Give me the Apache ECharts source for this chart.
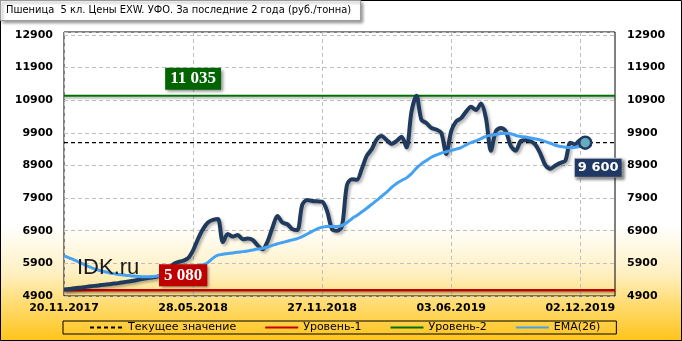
<!DOCTYPE html>
<html><head><meta charset="utf-8">
<script src="https://cdn.jsdelivr.net/npm/echarts@6/dist/echarts.min.js"></script>
<style>html,body{margin:0;padding:0;background:#fff}#c{width:682px;height:341px;}</style>
</head><body><div id="c"></div>
<script>
const chartTitle = 'Пшеница  5 кл. Цены EXW. УФО. За последние 2 года (руб./тонна)';
const tickLabels = ['20.11.2017', '28.05.2018', '27.11.2018', '03.06.2019', '02.12.2019'];
const tickStep = 26;
const categoryCount = 112;
const prices = [
  5100, 5115, 5135, 5150, 5170, 5190, 5210, 5225, 5245, 5260,
  5280, 5295, 5320, 5345, 5370, 5400, 5430, 5450, 5470, 5500,
  5560, 5700, 5870, 5940, 5980, 6060, 6300, 6650, 6950, 7150,
  7230, 7260, 6550, 6800, 6720, 6770, 6640, 6660, 6620, 6450,
  6330, 6570, 7000, 7350, 7150, 7100, 6950, 6920, 7700, 7840,
  7810, 7800, 7790, 7500, 6950, 6900, 7040, 8300, 8480, 8460,
  8800, 9200, 9400, 9700, 9800, 9680, 9560, 9650, 9780, 9450,
  10550, 11035, 10300, 10200, 10050, 10000, 9900, 9250, 9950, 10250,
  10350, 10550, 10700, 10600, 10800, 10350, 9350, 9950, 10050, 9950,
  9500, 9350, 9650, 9680, 9640, 9530, 9250, 8900, 8800, 8900,
  8980, 9050, 9600, 9550, 9680, 9600
];
const ema = [
  6130, 6070, 6010, 5940, 5870, 5800, 5740, 5690, 5650, 5615,
  5585, 5560, 5540, 5525, 5510, 5500, 5490, 5490, 5495, 5510,
  5530, 5560, 5600, 5640, 5690, 5740, 5790, 5830, 5860, 5930,
  6060, 6150, 6180, 6200, 6220, 6240, 6260, 6280, 6310, 6340,
  6360, 6400, 6450, 6500, 6540, 6580, 6620, 6660, 6720, 6800,
  6880, 6960, 7010, 7030, 7030, 7030, 7060, 7150, 7270, 7370,
  7480, 7590, 7710, 7830, 7960, 8080, 8230, 8350, 8440, 8520,
  8650, 8820, 8950, 9050, 9150, 9220, 9280, 9320, 9360, 9400,
  9450, 9530, 9600, 9650, 9720, 9790, 9830, 9850, 9880, 9890,
  9870, 9820, 9790, 9770, 9740, 9710, 9680, 9630, 9580, 9520,
  9480, 9460, 9450, 9460, 9480, 9510
];
const currentValue = 9600;
const level1 = 5080;
const level2 = 11035;
const level1LabelAt = 24;
const level2LabelAt = 26;
const yMin = 4900, yMax = 12990, yStep = 1000;

const categories = Array.from({length: categoryCount}, (_, i) => String(i));
const fmt = v => String(v).replace(/\B(?=(\d{3})+(?!\d))/g, ' ');
const last = prices.length - 1;
const first = categories[0], end = categories[categoryCount - 1];

const gridDash = {color: '#BFBFBF', type: [4, 3], width: 1};
const axisFont = {fontWeight: 'bold', fontSize: 11, color: '#000', fontFamily: 'DejaVu Sans'};
const boxShadow = {shadowColor: 'rgba(0,0,0,0.45)', shadowBlur: 3, shadowOffsetX: 2, shadowOffsetY: 2};

const chart = echarts.init(document.getElementById('c'));
chart.setOption({
  animation: false,
  backgroundColor: {type: 'linear', x: 0, y: 0, x2: 0, y2: 1, colorStops: [
    {offset: 0, color: '#FFFFFF'}, {offset: 0.66, color: '#FFFFFF'},
    {offset: 0.8, color: '#FFF0C2'}, {offset: 0.9, color: '#FFDA6A'}, {offset: 1, color: '#FFC41A'}]},
  title: {
    text: chartTitle, left: 0, top: 0, padding: [5, 10, 5, 6],
    backgroundColor: '#fff', borderColor: '#9A9A9A', borderWidth: 1,
    shadowColor: 'rgba(0,0,0,0.4)', shadowBlur: 3, shadowOffsetX: 2, shadowOffsetY: 2,
    textStyle: {fontFamily: 'DejaVu Sans Condensed', fontSize: 11, fontWeight: 'normal', color: '#000'}
  },
  grid: {left: 64, right: 67, top: 32, bottom: 45, show: true, borderColor: '#000', borderWidth: 1, backgroundColor: 'transparent'},
  legend: {
    data: ['Текущее значение', 'Уровень-1', 'Уровень-2', 'EMA(26)'],
    left: 63, top: 321, itemWidth: 33, itemHeight: 10, itemGap: 28,
    padding: [1, 16, 1, 26], borderColor: '#000', borderWidth: 1,
    itemStyle: {opacity: 0},
    textStyle: {fontSize: 11, fontFamily: 'DejaVu Sans', color: '#000'}
  },
  xAxis: {
    type: 'category', data: categories, boundaryGap: false,
    axisLine: {show: false}, axisTick: {show: false},
    axisLabel: Object.assign({interval: tickStep - 1, margin: 7,
      formatter: (v, i) => tickLabels[i / tickStep] || ''}, axisFont),
    splitLine: {show: true, interval: tickStep - 1, lineStyle: gridDash}
  },
  yAxis: [
    {type: 'value', min: yMin, max: yMax, interval: yStep, position: 'left',
     axisLine: {show: false}, axisTick: {show: false},
     axisLabel: Object.assign({showMaxLabel: false, margin: 11, formatter: v => String(v)}, axisFont),
     splitLine: {show: true, lineStyle: gridDash}},
    {type: 'value', min: yMin, max: yMax, interval: yStep, position: 'right',
     axisLine: {show: false}, axisTick: {show: false},
     axisLabel: Object.assign({showMaxLabel: false, margin: 12, formatter: v => String(v)}, axisFont),
     splitLine: {show: false}}
  ],
  graphic: [
    {type: 'rect', silent: true, z: 0, shape: {x: 0.5, y: 0.5, width: 681, height: 340},
     style: {fill: null, stroke: '#000', lineWidth: 1}},
    {type: 'text', silent: true, z: 100, left: 77, top: 257,
     style: {text: 'IDK.ru', font: '22px "Liberation Sans"', fill: '#1a1a1a'}}
  ],
  series: [
    {name: 'Уровень-1', type: 'line', data: [[first, level1], [end, level1]], symbol: 'none', z: 3,
     lineStyle: {color: '#C00000', width: 2.5, shadowColor: 'rgba(0,0,0,0.3)', shadowBlur: 2, shadowOffsetY: 2},
     itemStyle: {color: '#C00000'},
     markPoint: {symbol: 'circle', symbolSize: 1, z: 20, itemStyle: {color: 'rgba(0,0,0,0)'},
       data: [{coord: [categories[level1LabelAt], level1], value: level1}],
       label: Object.assign({show: true, position: 'inside', offset: [0, -15], formatter: fmt(level1),
         backgroundColor: '#C00000', color: '#fff', fontFamily: 'Liberation Serif', fontWeight: 'bold', fontSize: 17,
         padding: [3, 5, 2, 5]}, boxShadow)}},
    {name: 'Уровень-2', type: 'line', data: [[first, level2], [end, level2]], symbol: 'none', z: 3,
     lineStyle: {color: '#007000', width: 2, shadowColor: 'rgba(0,0,0,0.3)', shadowBlur: 2, shadowOffsetY: 2},
     itemStyle: {color: '#007000'},
     markPoint: {symbol: 'circle', symbolSize: 1, z: 20, itemStyle: {color: 'rgba(0,0,0,0)'},
       data: [{coord: [categories[level2LabelAt], level2], value: level2}],
       label: Object.assign({show: true, position: 'inside', offset: [0, -17], formatter: fmt(level2),
         backgroundColor: '#006400', color: '#fff', fontFamily: 'Liberation Serif', fontWeight: 'bold', fontSize: 17,
         padding: [3, 5, 2, 5]}, boxShadow)}},
    {name: 'Текущее значение', type: 'line', data: [[first, currentValue], [end, currentValue]], symbol: 'none', z: 3,
     lineStyle: {color: '#000', width: 1.2, type: [4, 3]}, itemStyle: {color: '#000'}},
    {name: 'Цена', type: 'line', data: prices, symbol: 'none', smooth: 0.3, z: 5,
     lineStyle: {color: '#203A5E', width: 4, shadowColor: 'rgba(0,0,0,0.3)', shadowBlur: 3, shadowOffsetX: 2, shadowOffsetY: 2},
     itemStyle: {color: '#203A5E'},
     markPoint: {symbol: 'circle', symbolSize: 12, z: 20,
       itemStyle: {color: '#63AEBB', borderColor: '#1F3864', borderWidth: 2.5},
       data: [{coord: [categories[last], prices[last]], value: currentValue}],
       label: Object.assign({show: true, position: 'inside', offset: [13, 25], formatter: fmt(currentValue),
         backgroundColor: '#1F3864', color: '#fff', fontFamily: 'DejaVu Sans', fontWeight: 'bold', fontSize: 13,
         padding: [3, 3, 2, 3], borderColor: '#D0D0D0', borderWidth: 1}, boxShadow)}},
    {name: 'EMA(26)', type: 'line', data: ema, symbol: 'none', smooth: 0.3, z: 6,
     lineStyle: {color: '#45A2F2', width: 3}, itemStyle: {color: '#45A2F2'}}
  ]
});
</script></body></html>
